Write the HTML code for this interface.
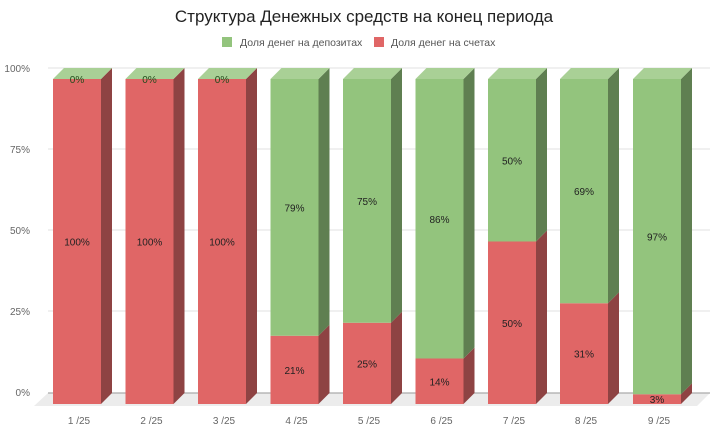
<!DOCTYPE html>
<html><head><meta charset="utf-8"><style>
body{margin:0;background:#fff;}
svg{display:block;font-family:"Liberation Sans","DejaVu Sans",sans-serif;}
.r{fill:#e06666}.rs{fill:#8e4343}.g{fill:#93c47d}.gs{fill:#5f7f51}.t{fill:#a9d096}
.l{font-size:10px;fill:#222;text-anchor:middle}
.x{font-size:10px;fill:#666;text-anchor:middle}
</style></head><body>
<svg width="728" height="443" viewBox="0 0 728 443" xmlns="http://www.w3.org/2000/svg">
<rect width="728" height="443" fill="#fff"/>
<text x="364" y="22" text-anchor="middle" font-size="17" fill="#222">Структура Денежных средств на конец периода</text>
<rect x="222" y="37" width="10" height="10" fill="#93c47d"/>
<text x="240" y="46" font-size="10.5" fill="#555">Доля денег на депозитах</text>
<rect x="374" y="37" width="10" height="10" fill="#e06666"/>
<text x="391" y="46" font-size="10.5" fill="#555">Доля денег на счетах</text>
<g stroke="#e0e0e0" stroke-width="1">
<line x1="48" y1="68" x2="710" y2="68"/>
<line x1="48" y1="149" x2="710" y2="149"/>
<line x1="48" y1="230" x2="710" y2="230"/>
<line x1="48" y1="311" x2="710" y2="311"/>
</g>
<polygon points="48,393 710,393 697,406 34,406" fill="#ececec"/>
<line x1="48" y1="393" x2="710" y2="393" stroke="#aaa" stroke-width="1.2"/>
<g font-size="10" fill="#666" text-anchor="end">
<text x="30" y="72">100%</text>
<text x="30" y="153">75%</text>
<text x="30" y="234">50%</text>
<text x="30" y="315">25%</text>
<text x="30" y="396">0%</text>
</g>

<!-- bar 1 -->
<rect class="r" x="53" y="79" width="48" height="325"/>
<polygon class="rs" points="101,79 112,68 112,393 101,404"/>
<polygon class="t" points="53,79 64,68 112,68 101,79"/>
<text class="l" x="77" y="245.5">100%</text>
<text class="l" x="77" y="83" style="fill:#1f4a1a">0%</text>
<text class="x" x="79" y="424">1 /25</text>
<!-- bar 2 -->
<rect class="r" x="125.5" y="79" width="48" height="325"/>
<polygon class="rs" points="173.5,79 184.5,68 184.5,393 173.5,404"/>
<polygon class="t" points="125.5,79 136.5,68 184.5,68 173.5,79"/>
<text class="l" x="149.5" y="245.5">100%</text>
<text class="l" x="149.5" y="83" style="fill:#1f4a1a">0%</text>
<text class="x" x="151.5" y="424">2 /25</text>
<!-- bar 3 -->
<rect class="r" x="198" y="79" width="48" height="325"/>
<polygon class="rs" points="246,79 257,68 257,393 246,404"/>
<polygon class="t" points="198,79 209,68 257,68 246,79"/>
<text class="l" x="222" y="245.5">100%</text>
<text class="l" x="222" y="83" style="fill:#1f4a1a">0%</text>
<text class="x" x="224" y="424">3 /25</text>
<!-- bar 4 -->
<rect class="r" x="270.5" y="335.75" width="48" height="68.25"/>
<polygon class="rs" points="318.5,335.75 329.5,324.75 329.5,393 318.5,404"/>
<rect class="g" x="270.5" y="79" width="48" height="256.75"/>
<polygon class="gs" points="318.5,79 329.5,68 329.5,324.75 318.5,335.75"/>
<polygon class="t" points="270.5,79 281.5,68 329.5,68 318.5,79"/>
<text class="l" x="294.5" y="373.9">21%</text>
<text class="l" x="294.5" y="211.4">79%</text>
<text class="x" x="296.5" y="424">4 /25</text>
<!-- bar 5 -->
<rect class="r" x="343" y="322.75" width="48" height="81.25"/>
<polygon class="rs" points="391,322.75 402,311.75 402,393 391,404"/>
<rect class="g" x="343" y="79" width="48" height="243.75"/>
<polygon class="gs" points="391,79 402,68 402,311.75 391,322.75"/>
<polygon class="t" points="343,79 354,68 402,68 391,79"/>
<text class="l" x="367" y="367.4">25%</text>
<text class="l" x="367" y="204.9">75%</text>
<text class="x" x="369" y="424">5 /25</text>
<!-- bar 6 -->
<rect class="r" x="415.5" y="358.5" width="48" height="45.5"/>
<polygon class="rs" points="463.5,358.5 474.5,347.5 474.5,393 463.5,404"/>
<rect class="g" x="415.5" y="79" width="48" height="279.5"/>
<polygon class="gs" points="463.5,79 474.5,68 474.5,347.5 463.5,358.5"/>
<polygon class="t" points="415.5,79 426.5,68 474.5,68 463.5,79"/>
<text class="l" x="439.5" y="385.3">14%</text>
<text class="l" x="439.5" y="222.8">86%</text>
<text class="x" x="441.5" y="424">6 /25</text>
<!-- bar 7 -->
<rect class="r" x="488" y="241.5" width="48" height="162.5"/>
<polygon class="rs" points="536,241.5 547,230.5 547,393 536,404"/>
<rect class="g" x="488" y="79" width="48" height="162.5"/>
<polygon class="gs" points="536,79 547,68 547,230.5 536,241.5"/>
<polygon class="t" points="488,79 499,68 547,68 536,79"/>
<text class="l" x="512" y="326.8">50%</text>
<text class="l" x="512" y="164.3">50%</text>
<text class="x" x="514" y="424">7 /25</text>
<!-- bar 8 -->
<rect class="r" x="560" y="303.25" width="48" height="100.75"/>
<polygon class="rs" points="608,303.25 619,292.25 619,393 608,404"/>
<rect class="g" x="560" y="79" width="48" height="224.25"/>
<polygon class="gs" points="608,79 619,68 619,292.25 608,303.25"/>
<polygon class="t" points="560,79 571,68 619,68 608,79"/>
<text class="l" x="584" y="357.6">31%</text>
<text class="l" x="584" y="195.1">69%</text>
<text class="x" x="586" y="424">8 /25</text>
<!-- bar 9 -->
<rect class="r" x="633" y="394.25" width="48" height="9.75"/>
<polygon class="rs" points="681,394.25 692,383.25 692,393 681,404"/>
<rect class="g" x="633" y="79" width="48" height="315.25"/>
<polygon class="gs" points="681,79 692,68 692,383.25 681,394.25"/>
<polygon class="t" points="633,79 644,68 692,68 681,79"/>
<text class="l" x="657" y="403">3%</text>
<text class="l" x="657" y="240.6">97%</text>
<text class="x" x="659" y="424">9 /25</text>
</svg>
</body></html>
